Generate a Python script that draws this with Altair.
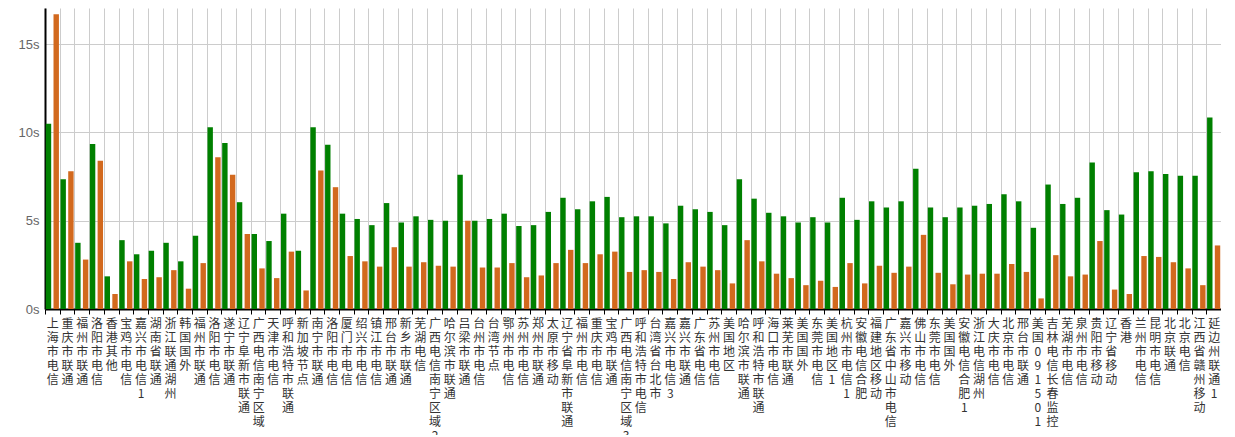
import altair as alt
import pandas as pd

categories = [
    "上海市电信", "重庆市联通", "福州市联通", "洛阳市电信", "香港其他", "宝鸡市电信",
    "嘉兴市电信1", "湖南省联通", "浙江联通湖州", "韩国国外", "福州市联通", "洛阳市电信",
    "遂宁市联通", "辽宁阜新市联通", "广西电信南宁区域", "天津市电信", "呼和浩特市联通",
    "新加坡节点", "南宁市联通", "洛阳市电信", "厦门市电信", "绍兴市电信", "镇江市电信",
    "邢台市联通", "新乡市联通", "芜湖电信", "广西电信南宁区域2", "哈尔滨市联通", "吕梁市联通",
    "台州市电信", "台湾节点", "鄂州市电信", "苏州市电信", "郑州市联通", "太原市移动",
    "辽宁省阜新市联通", "福州市电信", "重庆市电信", "宝鸡市联通", "广西电信南宁区域3",
    "呼和浩特市电信", "台湾省台北市", "嘉兴市电信3", "嘉兴市联通", "广东省电信", "苏州市电信",
    "美国地区", "哈尔滨市联通", "呼和浩特市联通", "海口市电信", "莱芜市联通", "美国国外",
    "东莞市电信", "美国地区1", "杭州市电信1", "安徽电信合肥", "福建地区移动", "广东省中山市电信",
    "嘉兴市移动", "佛山市电信", "东莞市电信", "美国国外", "安徽电信合肥1", "浙江电信湖州",
    "大庆市电信", "北京市电信", "邢台市联通", "美国091501", "吉林电信长春监控", "芜湖市电信",
    "泉州市电信", "贵阳市移动", "辽宁省移动", "香港", "兰州市电信", "昆明市电信",
    "北京联通", "北京电信", "江西省赣州移动", "延边州联通1",
]

green_values = [
    10.5, 7.35, 3.75, 9.35, 1.85, 3.9, 3.1, 3.3, 3.75, 2.7,
    4.15, 10.3, 9.4, 6.05, 4.25, 3.85, 5.4, 3.3, 10.3, 9.3,
    5.4, 5.1, 4.75, 6.0, 4.9, 5.25, 5.05, 5.0, 7.6, 5.0,
    5.1, 5.4, 4.7, 4.75, 5.5, 6.3, 5.65, 6.1, 6.35, 5.2,
    5.25, 5.25, 4.85, 5.85, 5.65, 5.5, 4.75, 7.35, 6.25, 5.45,
    5.25, 4.9, 5.2, 4.9, 6.3, 5.05, 6.1, 5.75, 6.1, 7.95,
    5.75, 5.2, 5.75, 5.85, 5.95, 6.5, 6.1, 4.6, 7.05, 5.95,
    6.3, 8.3, 5.6, 5.35, 7.75, 7.8, 7.65, 7.55, 7.55, 10.85,
]

orange_values = [
    16.7, 7.8, 2.8, 8.4, 0.85, 2.7, 1.7, 1.8, 2.2, 1.15,
    2.6, 8.6, 7.6, 4.25, 2.3, 1.75, 3.25, 1.05, 7.85, 6.9,
    3.0, 2.7, 2.4, 3.5, 2.4, 2.65, 2.45, 2.4, 5.0, 2.35,
    2.35, 2.6, 1.8, 1.9, 2.6, 3.35, 2.6, 3.1, 3.25, 2.1,
    2.2, 2.1, 1.7, 2.65, 2.4, 2.2, 1.45, 3.9, 2.7, 2.0,
    1.75, 1.35, 1.6, 1.25, 2.6, 1.45, 2.45, 2.05, 2.4, 4.2,
    2.05, 1.4, 1.95, 2.0, 2.0, 2.55, 2.1, 0.6, 3.05, 1.85,
    1.95, 3.85, 1.1, 0.85, 3.0, 2.95, 2.65, 2.3, 1.35, 3.6,
]

series_names = ["系列一", "系列二"]
series_colors = ["#008000", "#D2691E"]
y_ticks = [0, 5, 10, 15]

rows = []
for i, (c, g, o) in enumerate(zip(categories, green_values, orange_values)):
    key = f"{i:02d}|{c}"
    rows.append({"key": key, "series": series_names[0], "value": g})
    rows.append({"key": key, "series": series_names[1], "value": o})
df = pd.DataFrame(rows)

label_expr = (
    "isString(datum.value) && indexof(datum.value, '|') >= 0"
    " ? split(split(datum.value, '|')[1], '') : ''"
)

chart = alt.Chart(df).mark_bar().encode(
    x=alt.X(
        "key:N",
        sort=None,
        scale=alt.Scale(paddingInner=0, paddingOuter=0),
        axis=alt.Axis(
            title=None,
            labelAngle=0,
            labelExpr=label_expr,
            labelBaseline="top",
            labelAlign="center",
            labelLineHeight=14,
            labelFont="Noto Sans CJK SC",
            labelFontSize=12,
            labelColor="#333333",
            labelPadding=4,
            labelOverlap=False,
            labelBound=False,
            tickBand="extent",
            tickColor="#000000",
            tickSize=5,
            tickWidth=1,
            domainColor="#000000",
            domainWidth=2,
            grid=True,
            gridColor="#cccccc",
            gridWidth=1,
        ),
    ),
    xOffset=alt.XOffset(
        "series:N",
        sort=series_names,
        scale=alt.Scale(paddingInner=0.3, paddingOuter=0.1),
    ),
    y=alt.Y(
        "value:Q",
        scale=alt.Scale(domain=[0, 17.05], nice=False),
        axis=alt.Axis(
            title=None,
            values=y_ticks,
            labelExpr="datum.value + 's'",
            labelFont="Liberation Sans",
            labelFontSize=13,
            labelColor="#666666",
            labelPadding=6,
            ticks=False,
            domainColor="#000000",
            domainWidth=2,
            grid=True,
            gridColor="#cccccc",
            gridWidth=1,
        ),
    ),
    color=alt.Color(
        "series:N",
        scale=alt.Scale(domain=series_names, range=series_colors),
        legend=None,
    ),
).properties(
    width=1176,
    height=301,
    padding={"left": 37, "top": 0, "right": 0, "bottom": 126},
    autosize="none",
).configure_view(strokeWidth=0)

chart.save("out.html", embed_options={"renderer": "svg", "actions": False})
